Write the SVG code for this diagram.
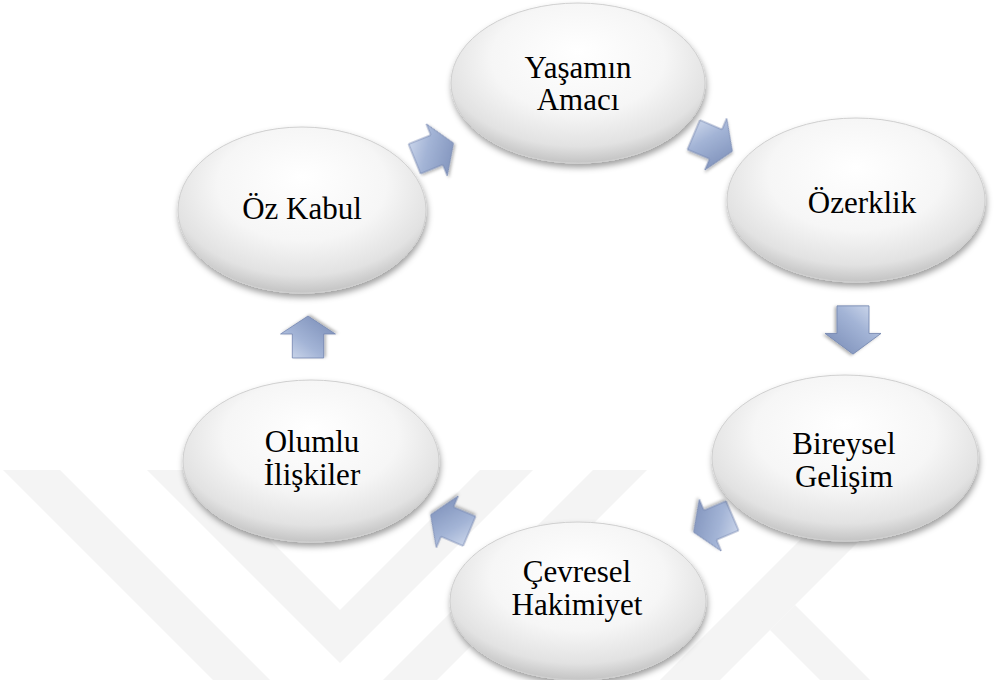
<svg xmlns="http://www.w3.org/2000/svg" width="995" height="680" viewBox="0 0 995 680">
  <defs>
    <radialGradient id="ellFill" cx="50%" cy="38%" r="62%" fx="50%" fy="30%">
      <stop offset="0" stop-color="#ffffff"/>
      <stop offset="0.55" stop-color="#f6f6f6"/>
      <stop offset="0.85" stop-color="#e2e2e2"/>
      <stop offset="1" stop-color="#c4c4c4"/>
    </radialGradient>
    <linearGradient id="arrFill" x1="0" y1="0" x2="1" y2="1">
      <stop offset="0" stop-color="#d6dff0"/>
      <stop offset="0.4" stop-color="#a3b4d6"/>
      <stop offset="1" stop-color="#7689b4"/>
    </linearGradient>
    <filter id="shadow" x="-20%" y="-20%" width="140%" height="150%">
      <feDropShadow dx="1" dy="4" stdDeviation="3" flood-color="#000" flood-opacity="0.38"/>
    </filter>
    <filter id="ashadow" x="-30%" y="-30%" width="160%" height="160%">
      <feDropShadow dx="1" dy="2" stdDeviation="1.5" flood-color="#000" flood-opacity="0.3"/>
    </filter>
    <path id="arrow" d="M-21,-16 H3 V-28 L21,0 L3,28 V16 H-21 Z"/>
    <style>
      .node ellipse { fill: url(#ellFill); stroke: #cfcfcf; stroke-width: 1; filter: url(#shadow); }
      .node text { font-family: "Liberation Serif", "Times New Roman", serif; font-size: 31px; fill: #000; text-anchor: middle; }
      .arr { fill: url(#arrFill); stroke: #7587b0; stroke-width: 0.8; filter: url(#ashadow); }
      .wm { fill: #f4f4f4; }
    </style>
  </defs>

  <rect width="995" height="680" fill="#ffffff"/>

  <g id="watermark">
    <polygon class="wm" points="3,470 60,470 270,680 213,680"/>
    <polygon class="wm" points="147,470 200,470 340,610 480,470 533,470 340,663"/>
    <polygon class="wm" points="593,470 647,470 437,680 383,680"/>
    <polygon class="wm" points="660,680 720,680 930,470 870,470"/>
    <polygon class="wm" points="770,630 795,605 870,680 820,680"/>
  </g>

  <g id="connectors">
    <use href="#arrow" class="arr" transform="translate(434,151) rotate(-22)"/>
    <use href="#arrow" class="arr" transform="translate(713,143) rotate(23)"/>
    <use href="#arrow" class="arr" transform="translate(853,330) rotate(90) scale(1.15,1.0)"/>
    <use href="#arrow" class="arr" transform="translate(713,524) rotate(157)"/>
    <use href="#arrow" class="arr" transform="translate(450,523) rotate(203)"/>
    <use href="#arrow" class="arr" transform="translate(308,337) rotate(-90) scale(1.0,0.98)"/>
  </g>

  <g id="node-yasamin" class="node">
    <ellipse cx="578" cy="83" rx="127" ry="80"/>
    <text x="578" y="78">Yaşamın</text>
    <text x="578" y="110">Amacı</text>
  </g>
  <g id="node-ozerklik" class="node">
    <ellipse cx="856" cy="200" rx="129" ry="82"/>
    <text x="862" y="213">Özerklik</text>
  </g>
  <g id="node-bireysel" class="node">
    <ellipse cx="845" cy="458" rx="133" ry="83"/>
    <text x="844" y="454">Bireysel</text>
    <text x="844" y="487">Gelişim</text>
  </g>
  <g id="node-cevresel" class="node">
    <ellipse cx="578" cy="601" rx="128" ry="79"/>
    <text x="577" y="582">Çevresel</text>
    <text x="577" y="615">Hakimiyet</text>
  </g>
  <g id="node-olumlu" class="node">
    <ellipse cx="311" cy="461" rx="128" ry="81"/>
    <text x="312" y="452">Olumlu</text>
    <text x="312" y="485">İlişkiler</text>
  </g>
  <g id="node-ozkabul" class="node">
    <ellipse cx="302" cy="210" rx="124" ry="83"/>
    <text x="302" y="219">Öz Kabul</text>
  </g>
</svg>
